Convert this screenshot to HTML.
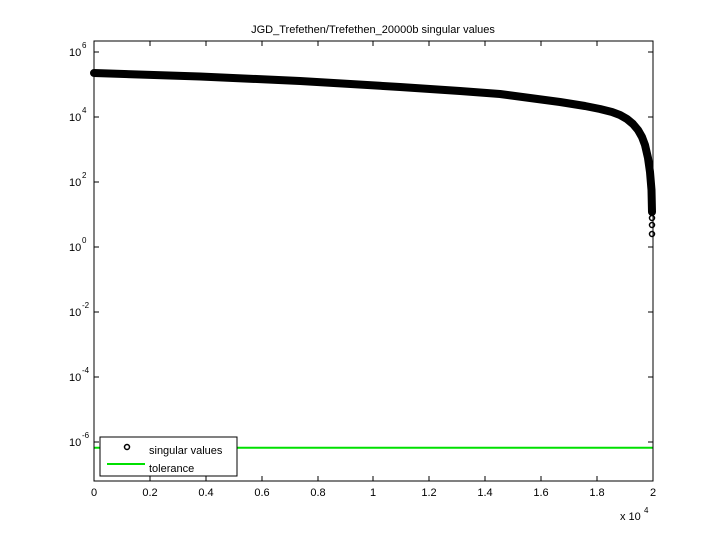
<!DOCTYPE html>
<html><head><style>body{margin:0;background:#fff}svg{display:block}</style></head><body>
<svg width="720" height="540" xmlns="http://www.w3.org/2000/svg" font-family="Liberation Sans, sans-serif" font-size="11">
<rect width="720" height="540" fill="#fff"/>
<text x="373" y="33" text-anchor="middle">JGD_Trefethen/Trefethen_20000b singular values</text>
<line x1="94" y1="447.7" x2="653" y2="447.7" stroke="#00e000" stroke-width="2"/>
<path d="M94,73 L200,76.5 L300,81 L400,87 L460,91 L500,94 L530,98 L560,102 L585,106 L600,109 L612,112 L620,115 L627,119 L633,124 L638,130 L642,137 L645,145 L648,158 L650,172 L651.5,190 L652,212" fill="none" stroke="#000" stroke-width="8" stroke-linejoin="round" stroke-linecap="round"/>
<g fill="none" stroke="#000" stroke-width="1.5">
<circle cx="652" cy="218" r="2.5"/><circle cx="652" cy="225" r="2.5"/><circle cx="652" cy="234" r="2.5"/>
</g>
<rect x="94" y="41" width="559" height="440" fill="none" stroke="#000"/>
<g stroke="#000">
<line x1="94" y1="52" x2="99" y2="52"/><line x1="653" y1="52" x2="648" y2="52"/>
<line x1="94" y1="117" x2="99" y2="117"/><line x1="653" y1="117" x2="648" y2="117"/>
<line x1="94" y1="182" x2="99" y2="182"/><line x1="653" y1="182" x2="648" y2="182"/>
<line x1="94" y1="247" x2="99" y2="247"/><line x1="653" y1="247" x2="648" y2="247"/>
<line x1="94" y1="312" x2="99" y2="312"/><line x1="653" y1="312" x2="648" y2="312"/>
<line x1="94" y1="377" x2="99" y2="377"/><line x1="653" y1="377" x2="648" y2="377"/>
<line x1="94" y1="442" x2="99" y2="442"/><line x1="653" y1="442" x2="648" y2="442"/>
</g>
<g stroke="#000">
<line x1="150" y1="481" x2="150" y2="476"/><line x1="150" y1="41" x2="150" y2="46"/>
<line x1="206" y1="481" x2="206" y2="476"/><line x1="206" y1="41" x2="206" y2="46"/>
<line x1="262" y1="481" x2="262" y2="476"/><line x1="262" y1="41" x2="262" y2="46"/>
<line x1="318" y1="481" x2="318" y2="476"/><line x1="318" y1="41" x2="318" y2="46"/>
<line x1="373" y1="481" x2="373" y2="476"/><line x1="373" y1="41" x2="373" y2="46"/>
<line x1="429" y1="481" x2="429" y2="476"/><line x1="429" y1="41" x2="429" y2="46"/>
<line x1="485" y1="481" x2="485" y2="476"/><line x1="485" y1="41" x2="485" y2="46"/>
<line x1="541" y1="481" x2="541" y2="476"/><line x1="541" y1="41" x2="541" y2="46"/>
<line x1="597" y1="481" x2="597" y2="476"/><line x1="597" y1="41" x2="597" y2="46"/>
</g>
<g text-anchor="middle">
<text x="94" y="496">0</text><text x="150" y="496">0.2</text><text x="206" y="496">0.4</text><text x="262" y="496">0.6</text><text x="318" y="496">0.8</text><text x="373" y="496">1</text><text x="429" y="496">1.2</text><text x="485" y="496">1.4</text><text x="541" y="496">1.6</text><text x="597" y="496">1.8</text><text x="653" y="496">2</text>
</g>
<text x="620" y="520">x 10</text><text x="644" y="513" font-size="8">4</text>
<g>
<text x="69" y="56">10</text><text x="82" y="48" font-size="8">6</text>
<text x="69" y="121">10</text><text x="82" y="113" font-size="8">4</text>
<text x="69" y="186">10</text><text x="82" y="178" font-size="8">2</text>
<text x="69" y="251">10</text><text x="82" y="243" font-size="8">0</text>
<text x="69" y="316">10</text><text x="82" y="308" font-size="8">-2</text>
<text x="69" y="381">10</text><text x="82" y="373" font-size="8">-4</text>
<text x="69" y="446">10</text><text x="82" y="438" font-size="8">-6</text>
</g>
<rect x="100" y="437" width="137" height="39" fill="#fff" stroke="#000"/>
<circle cx="127" cy="447" r="2.5" fill="none" stroke="#000" stroke-width="1.5"/>
<text x="149" y="454">singular values</text>
<line x1="107" y1="464" x2="145" y2="464" stroke="#00e000" stroke-width="2"/>
<text x="149" y="472">tolerance</text>
</svg>
</body></html>
